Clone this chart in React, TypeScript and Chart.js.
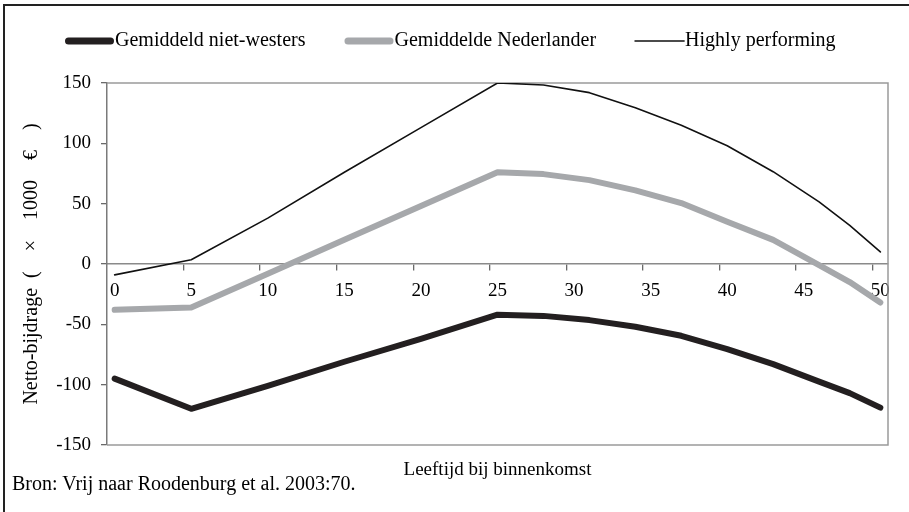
import React, { useEffect, useRef } from 'react';
import { Chart, registerables } from 'chart.js';

Chart.register(...registerables);

// Categories: age at arrival (0..50)
const ages = [
  0, 1, 2, 3, 4, 5, 6, 7, 8, 9, 10, 11, 12, 13, 14, 15, 16, 17, 18, 19, 20,
  21, 22, 23, 24, 25, 26, 27, 28, 29, 30, 31, 32, 33, 34, 35, 36, 37, 38, 39, 40,
  41, 42, 43, 44, 45, 46, 47, 48, 49, 50,
];
const sampleAges = [0, 5, 10, 15, 20, 25, 28, 31, 34, 37, 40, 43, 46, 48, 50];
const nietWesters = [-95, -120, -101, -81, -62, -42, -43, -46.5, -52, -59.5, -70.5, -83, -97.5, -107, -119];
const nederlander = [-38, -36, -8, 20, 48, 76, 74.5, 69.5, 61, 50.5, 35, 20, -1, -15, -32];
const highlyPerforming = [-9, 3.5, 38, 76, 113, 150, 148.4, 142, 129.5, 115, 98, 76.5, 51.5, 32, 10];

const seriesNames = ['Gemiddeld niet-westers', 'Gemiddelde Nederlander', 'Highly performing'];
const yMin = -150;
const yMax = 150;
const yStep = 50;
const xLabelEvery = 5;
const yTitle = 'Netto-bijdrage  (\u2003\u00d7\u20031000\u2003\u20ac\u2003)';
const xTitle = 'Leeftijd bij binnenkomst';
const sourceText = 'Bron: Vrij naar Roodenburg et al. 2003:70.';

const FONT = "'Liberation Serif', 'Times New Roman', serif";

const framePlugin = {
  id: 'frame',
  beforeDatasetsDraw(chart: any) {
    const { ctx, chartArea } = chart;
    const { left, right, top, bottom } = chartArea;
    ctx.save();
    ctx.strokeStyle = '#9a9a9a';
    ctx.lineWidth = 1.5;
    ctx.beginPath();
    ctx.moveTo(left, top);
    ctx.lineTo(right, top);
    ctx.lineTo(right, bottom);
    ctx.lineTo(left, bottom);
    ctx.stroke();
    ctx.restore();
  },
};

const legendPlugin = {
  id: 'customLegend',
  afterDraw(chart: any) {
    const ctx = chart.ctx;
    ctx.save();
    ctx.font = `20px ${FONT}`;
    ctx.textBaseline = 'middle';
    ctx.textAlign = 'left';
    let x = 65;
    const y = 41;
    const sample = 49;
    const gap = 1;
    const spacing = 39;
    chart.data.datasets.forEach((ds: any) => {
      const lw = ds.borderWidth + (ds.borderWidth > 3 ? 1 : 0);
      ctx.beginPath();
      ctx.lineCap = 'round';
      ctx.lineWidth = lw;
      ctx.strokeStyle = ds.borderColor;
      const inset = ds.borderWidth > 3 ? lw / 2 : 0;
      ctx.moveTo(x + inset, y);
      ctx.lineTo(x + sample - inset, y);
      ctx.stroke();
      ctx.fillStyle = '#000';
      ctx.fillText(ds.label, x + sample + gap, y);
      x += sample + gap + ctx.measureText(ds.label).width + spacing;
    });
    ctx.restore();
  },
};

export default function App() {
  const ref = useRef<HTMLCanvasElement>(null);

  useEffect(() => {
    document.body.style.margin = '0';
    const toPoints = (vals: number[]) => sampleAges.map((a, i) => ({ x: a, y: vals[i] }));
    const chart = new Chart(ref.current as HTMLCanvasElement, {
      type: 'line',
      data: {
        labels: ages,
        datasets: [
          {
            label: seriesNames[0],
            data: toPoints(nietWesters),
            borderColor: '#231f20',
            borderWidth: 6,
          },
          {
            label: seriesNames[1],
            data: toPoints(nederlander),
            borderColor: '#a6a8ab',
            borderWidth: 6,
          },
          {
            label: seriesNames[2],
            data: toPoints(highlyPerforming),
            borderColor: '#111111',
            borderWidth: 1.6,
          },
        ],
      } as any,
      options: {
        animation: false,
        responsive: false,
        layout: { padding: { top: 83, right: 21, bottom: 0, left: 0 } },
        plugins: {
          legend: { display: false },
          tooltip: { enabled: false },
        },
        elements: {
          point: { radius: 0, hoverRadius: 0 },
          line: { tension: 0, borderCapStyle: 'round', borderJoinStyle: 'round', fill: false },
        },
        scales: {
          x: {
            type: 'category',
            position: { y: 0 } as any,
            offset: true,
            grid: {
              offset: true,
              drawOnChartArea: false,
              tickLength: 6,
              lineWidth: 1.3,
              color: (c: any) =>
                c.index > 0 && c.index < ages.length && c.index % xLabelEvery === 0 ? '#6a6a6a' : 'rgba(0,0,0,0)',
            },
            border: { color: '#8a8a8a', width: 1.5 },
            ticks: {
              autoSkip: false,
              maxRotation: 0,
              minRotation: 0,
              padding: 10,
              color: '#000',
              font: { family: FONT, size: 19 },
              callback: (_v: any, i: number) => (i % xLabelEvery === 0 ? String(ages[i]) : ''),
            },
          },
          x2: {
            type: 'category',
            position: 'bottom',
            labels: ages,
            grid: { display: false, drawTicks: false },
            border: { display: false },
            ticks: { display: false },
            title: {
              display: true,
              text: xTitle,
              color: '#000',
              font: { family: FONT, size: 19 },
              padding: { top: 13.6, bottom: 30.6 },
            },
          } as any,
          y: {
            type: 'linear',
            min: yMin,
            max: yMax,
            grid: { drawOnChartArea: false, tickLength: 6, color: '#6a6a6a', lineWidth: 1.3 },
            border: { color: '#7a7a7a', width: 1.5 },
            ticks: {
              stepSize: yStep,
              padding: 10,
              color: '#000',
              font: { family: FONT, size: 19 },
            },
            title: {
              display: true,
              text: yTitle,
              color: '#000',
              font: { family: FONT, size: 20 },
              padding: { top: 20, bottom: 0 },
            },
            afterFit: (s: any) => {
              s.width = 107;
            },
          },
        },
      } as any,
      plugins: [framePlugin, legendPlugin],
    });
    return () => chart.destroy();
  }, []);

  return (
    <div style={{ position: 'relative', width: 909, height: 512, background: '#fff' }}>
      <div
        style={{
          position: 'absolute',
          left: 3,
          top: 4,
          right: 0,
          bottom: 0,
          borderLeft: '2px solid #222',
          borderTop: '2px solid #222',
        }}
      />
      <canvas ref={ref} width={909} height={512} style={{ position: 'absolute', left: 0, top: 0 }} />
      <div
        style={{
          position: 'absolute',
          left: 12,
          top: 472,
          font: `20px ${FONT}`,
          lineHeight: '23px',
          whiteSpace: 'nowrap',
          color: '#000',
        }}
      >
        {sourceText}
      </div>
    </div>
  );
}
